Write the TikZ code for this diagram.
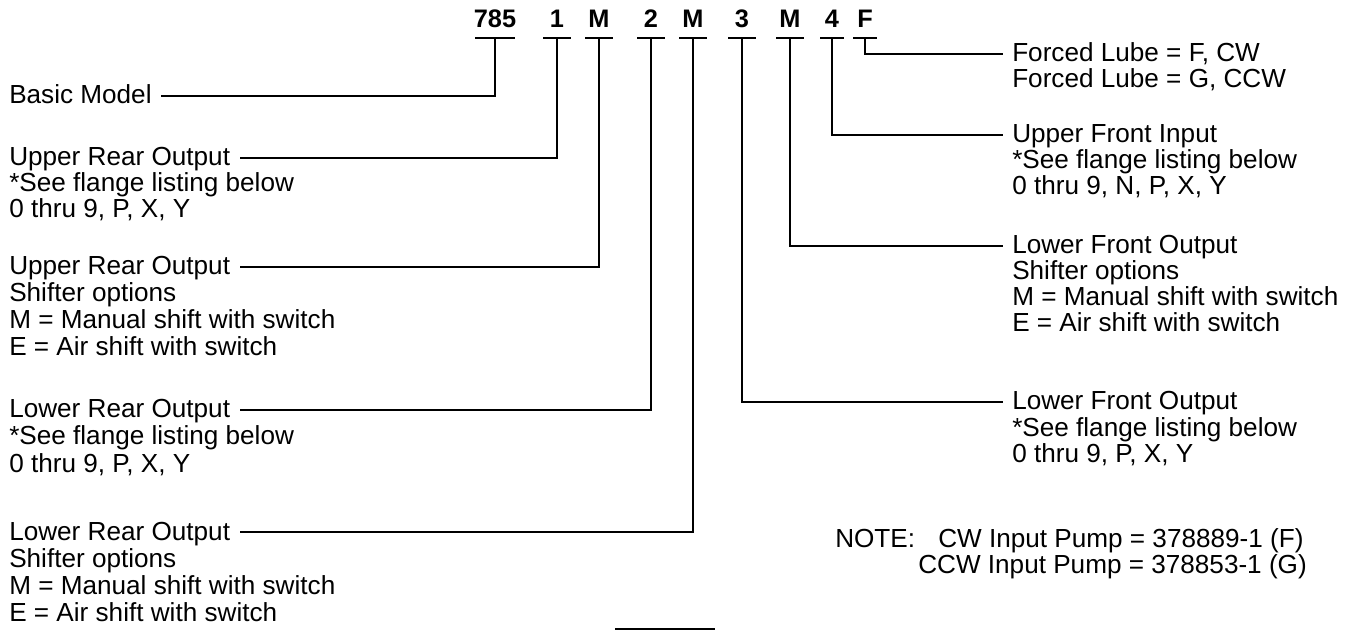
\documentclass[tikz,border=0pt]{standalone}
\usepackage{fontspec}
\setmainfont{Liberation Sans}

\begin{document}
\begin{tikzpicture}[x=0.75pt, y=-0.75pt,
    code/.style={anchor=base, font=\fontsize{19}{19}\selectfont\bfseries,
      inner sep=0pt, text depth=0pt, outer ysep=7.5pt},
    bar/.style={line width=1.9pt},
    link/.style={line width=1.8pt, shorten >=7pt},
    head/.style={anchor=base west, inner sep=0pt, text height=12pt, text depth=0pt},
    txt/.style={anchor=base west, inner sep=0pt},
    every node/.append style={font=\fontsize{19.6}{21}\selectfont}]
  \useasboundingbox (0,0) rectangle (1359,630);

  % model code with its bars
  \foreach \n/\t/\x/\w in {c785/785/495/20, c1/1/557/14, cMa/M/599/14, c2/2/651/14,
      cMb/M/693/14, c3/3/742/14, cMc/M/790/14, c4/4/832/12, cF/F/865/12} {
    \node[code] (\n) at (\x,28) {\t};
    \draw[bar] ([xshift=-\w*0.75pt]\n.south) -- ([xshift=\w*0.75pt]\n.south);
  }

  % left side
  \node[head] (basic) at (9,104) {Basic Model};

  \node[head] (uro) at (9,166) {Upper Rear Output};
  \node[txt] (uroa) at (9,192) {*See flange listing below};
  \node[txt] (urob) at (9,218) {0 thru 9, P, X, Y};

  \node[head] (urs) at (9,275) {Upper Rear Output};
  \node[txt] (ursa) at (9,302) {Shifter options};
  \node[txt] (ursb) at (9,329) {M = Manual shift with switch};
  \node[txt] (ursc) at (9,356) {E = Air shift with switch};

  \node[head] (lro) at (9,418) {Lower Rear Output};
  \node[txt] (lroa) at (9,445) {*See flange listing below};
  \node[txt] (lrob) at (9,472) {0 thru 9, P, X, Y};

  \node[head] (lrs) at (9,540) {Lower Rear Output};
  \node[txt] (lrsa) at (9,567) {Shifter options};
  \node[txt] (lrsb) at (9,594) {M = Manual shift with switch};
  \node[txt] (lrsc) at (9,621) {E = Air shift with switch};

  % right side
  \node[head] (lube) at (1012,62) {Forced Lube = F, CW};
  \node[txt] (lubea) at (1012,88) {Forced Lube = G, CCW};

  \node[head] (ufi) at (1012,143) {Upper Front Input};
  \node[txt] (ufia) at (1012,169) {*See flange listing below};
  \node[txt] (ufib) at (1012,195) {0 thru 9, N, P, X, Y};

  \node[head] (lfs) at (1012,254) {Lower Front Output};
  \node[txt] (lfsa) at (1012,280) {Shifter options};
  \node[txt] (lfsb) at (1012,306) {M = Manual shift with switch};
  \node[txt] (lfsc) at (1012,332) {E = Air shift with switch};

  \node[head] (lfo) at (1012,410) {Lower Front Output};
  \node[txt] (lfoa) at (1012,436) {*See flange listing below};
  \node[txt] (lfob) at (1012,462) {0 thru 9, P, X, Y};

  \node[txt] (note) at (835,547) {NOTE:};
  \node[txt] (cw) at (938,547) {CW Input Pump = 378889-1 (F)};
  \node[txt] (ccw) at (918,573) {CCW Input Pump = 378853-1 (G)};

  % leaders
  \draw[link] (c785.south) |- (basic.east);
  \draw[link] (c1.south) |- (uro.east);
  \draw[link] (cMa.south) |- (urs.east);
  \draw[link] (c2.south) |- (lro.east);
  \draw[link] (cMb.south) |- (lrs.east);
  \draw[link] (c3.south) |- (lfo.west);
  \draw[link] (cMc.south) |- (lfs.west);
  \draw[link] (c4.south) |- (ufi.west);
  \draw[link] (cF.south) |- (lube.west);

  \draw[bar] (615,629) -- (715,629);
\end{tikzpicture}
\end{document}
